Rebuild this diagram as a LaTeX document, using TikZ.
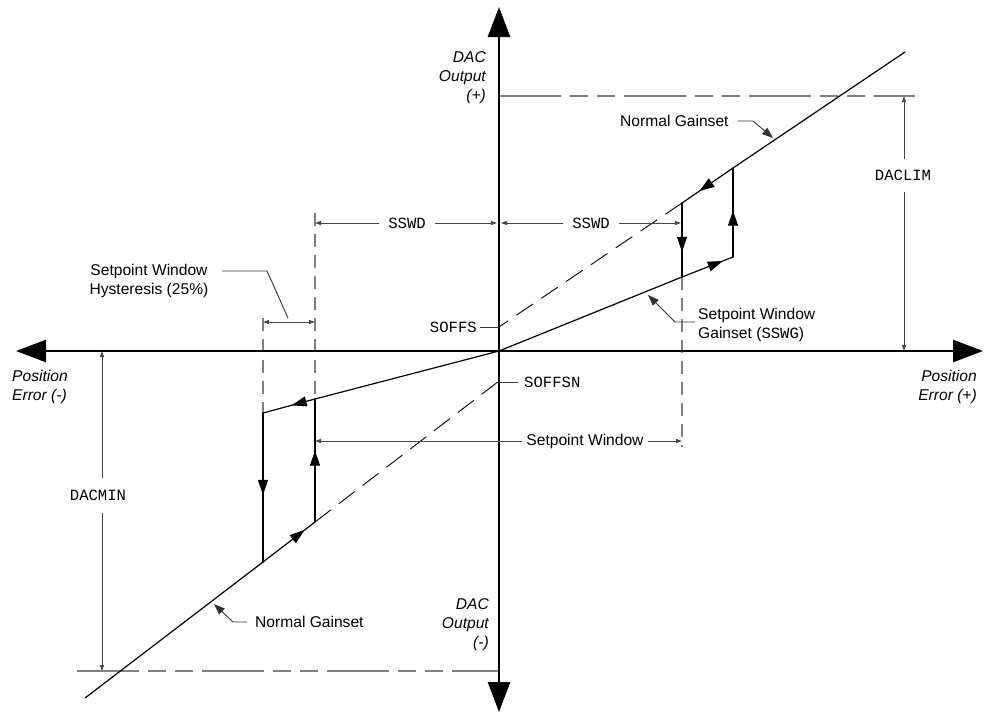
\documentclass[tikz,border=0pt]{standalone}
\usepackage{fontspec}
\setmainfont{Liberation Sans}
\setmonofont{Liberation Mono}
\usetikzlibrary{arrows.meta,decorations.markings}
\newcommand\fs{\fontsize{15.6}{19}\selectfont}
\colorlet{dimc}{black!72}
\colorlet{dashc}{black!50}
\begin{document}
\begin{tikzpicture}[x=1pt,y=-1pt,
  every node/.style={font=\fs,inner sep=0pt},
  itl/.style={font=\fs\itshape},
  axis/.style={line width=2.6pt,{Triangle[length=30pt,width=22pt]}-{Triangle[length=30pt,width=22pt]}},
  curve/.style={line width=1.2pt,line cap=round,line join=miter},
  midarr/.style={postaction={decorate},decoration={markings,mark=at position #1 with {\arrow{Triangle[length=15pt,width=10pt]}}}},
  dim/.style={draw=dimc,line width=0.9pt,-{Triangle[length=6pt,width=4pt]}},
  dimboth/.style={draw=dimc,line width=0.9pt,{Triangle[length=6pt,width=4pt]}-{Triangle[length=6pt,width=4pt]}},
  leader/.style={draw=black!80,line width=0.9pt},
  leaderarr/.style={leader,-{Triangle[length=11pt,width=8pt]}},
  vdash/.style={draw=dashc,line width=1.3pt,dash pattern=on 13pt off 8pt},
  hdash/.style={draw=dashc,line width=1.3pt,dash pattern=on 62pt off 9pt on 18pt off 9pt on 18pt off 9pt},
  ddash/.style={draw=black,line width=0.9pt,dash pattern=on 20pt off 10pt}
]
\useasboundingbox (0,0) rectangle (987,713);

% key points
\coordinate (O) at (499,351);
\coordinate (L) at (16,351);
\coordinate (R) at (983,351);
\coordinate (T) at (499,7);
\coordinate (B) at (499,712);
\coordinate (NE) at (905,52);
\coordinate (A1) at (733,168);
\coordinate (A2) at (682,203);
\coordinate (A3) at (682,277);
\coordinate (A4) at (733,257);
\coordinate (S1) at (499,327);
\coordinate (B1) at (315,399);
\coordinate (B2) at (263,413);
\coordinate (B3) at (263,562);
\coordinate (B4) at (315,522);
\coordinate (SW) at (85,698);
\coordinate (S2) at (499,381);

% dashed reference lines
\coordinate (limL) at (499,96);
\coordinate (limR) at (915,96);
\coordinate (minL) at (77,671);
\coordinate (minR) at (499,671);
\draw[hdash] (limL) -- (limR);
\draw[hdash] (minL) -- (minR);
\coordinate (v1t) at (315,213);
\coordinate (v2t) at (263,318);
\coordinate (v3b) at (682,447);
\draw[vdash] (v1t) -- (B1);
\draw[vdash] (v2t) -- (B2);
\draw[vdash] (A3) -- (v3b);
\draw[ddash] (A2) -- (S1);
\draw[ddash] (B4) -- (S2);

% axes
\draw[axis] (L) -- (R);
\draw[axis] (T) -- (B);

% transfer curve, right side
\draw[curve] (NE) -- (A1);
\draw[curve,midarr=0.66] (A1) -- (A2);
\draw[curve,midarr=0.66] (A2) -- (A3);
\draw[curve] (O) -- (A3);
\draw[curve,midarr=0.8] (A3) -- (A4);
\draw[curve,midarr=0.52] (A4) -- (A1);
% left side
\draw[curve] (O) -- (B1);
\draw[curve,midarr=0.45] (B1) -- (B2);
\draw[curve,midarr=0.55] (B2) -- (B3);
\draw[curve,midarr=0.8] (B3) -- (B4);
\draw[curve,midarr=0.58] (B4) -- (B1);
\draw[curve] (B3) -- (SW);

% axis labels
\node[itl,align=right,anchor=east] (dacp) at (486,78) {DAC\\Output\\(+)};
\node[itl,align=right,anchor=east] (dacm) at (489,625) {DAC\\Output\\(-)};
\node[itl,align=left,anchor=west] (pem) at (12,387) {Position\\Error (-)};
\node[itl,align=right,anchor=east] (pep) at (977,387) {Position\\Error (+)};

% DACLIM / DACMIN
\node[inner ysep=11pt] (daclim) at (903,175) {\texttt{DACLIM}};
\coordinate (limA) at (904,96);
\coordinate (limB) at (904,351);
\draw[dim] (daclim.north -| limA) -- (limA);
\draw[dim] (daclim.south -| limA) -- (limB);
\node[inner ysep=12pt] (dacmin) at (98,495) {\texttt{DACMIN}};
\coordinate (minA) at (102,351);
\coordinate (minB) at (102,671);
\draw[dim] (dacmin.north -| minA) -- (minA);
\draw[dim] (dacmin.south -| minA) -- (minB);

% SSWD
\node[inner xsep=9pt] (sswdl) at (407,223) {\texttt{SSWD}};
\coordinate (swl1) at (315,223);
\coordinate (swl2) at (497,223);
\draw[dim] (sswdl.west) -- (swl1);
\draw[dim] (sswdl.east) -- (swl2);
\node[inner xsep=9pt] (sswdr) at (591,223) {\texttt{SSWD}};
\coordinate (swr1) at (501,223);
\coordinate (swr2) at (681,223);
\draw[dim] (sswdr.west) -- (swr1);
\draw[dim] (sswdr.east) -- (swr2);

% Setpoint window
\node[inner xsep=4pt] (spw) at (585,441) {Setpoint Window};
\coordinate (spw1) at (315,441);
\coordinate (spw2) at (682,441);
\draw[dim] (spw.west) -- (spw1);
\draw[dim] (spw.east) -- (spw2);

% hysteresis
\coordinate (hy1) at (263,322);
\coordinate (hy2) at (315,322);
\draw[dimboth] (hy1) -- (hy2);
\node[align=center] (hyst) at (149,281) {Setpoint Window\\Hysteresis (25\%)};
\coordinate (hys) at (222,271);
\coordinate (hyk) at (267,271);
\coordinate (hyt) at (288,318);
\draw[leader] (hys) -- (hyk) -- (hyt);

% SOFFS / SOFFSN
\node[anchor=east] (soffs) at (477,327) {\texttt{SOFFS}};
\draw[leader] ([xshift=3pt]soffs.east) -- (S1);
\node[anchor=west] (soffsn) at (524,382) {\texttt{SOFFSN}};
\coordinate (S2b) at (499,382);
\draw[leader] ([xshift=-6pt]soffsn.west) -- (S2b);

% Normal gainset (upper)
\node[anchor=west] (ngu) at (620,121) {Normal Gainset};
\coordinate (ngk) at (753,121);
\coordinate (ngt) at (773,138);
\draw[leaderarr] ([xshift=9pt]ngu.east) -- (ngk) -- (ngt);

% Normal gainset (lower)
\node[anchor=west] (ngl) at (255,622) {Normal Gainset};
\coordinate (nglk) at (233,622);
\coordinate (nglt) at (214,604);
\draw[leaderarr] ([xshift=-8pt]ngl.west) -- (nglk) -- (nglt);

% Setpoint window gainset
\node[anchor=west,align=left] (sswg) at (698,325) {Setpoint Window\\Gainset (\texttt{SSWG})};
\coordinate (sgk) at (675,322);
\coordinate (sgt) at (648,295);
\draw[leaderarr] ([xshift=-3pt]sswg.west |- sgk) -- (sgk) -- (sgt);
\end{tikzpicture}
\end{document}
